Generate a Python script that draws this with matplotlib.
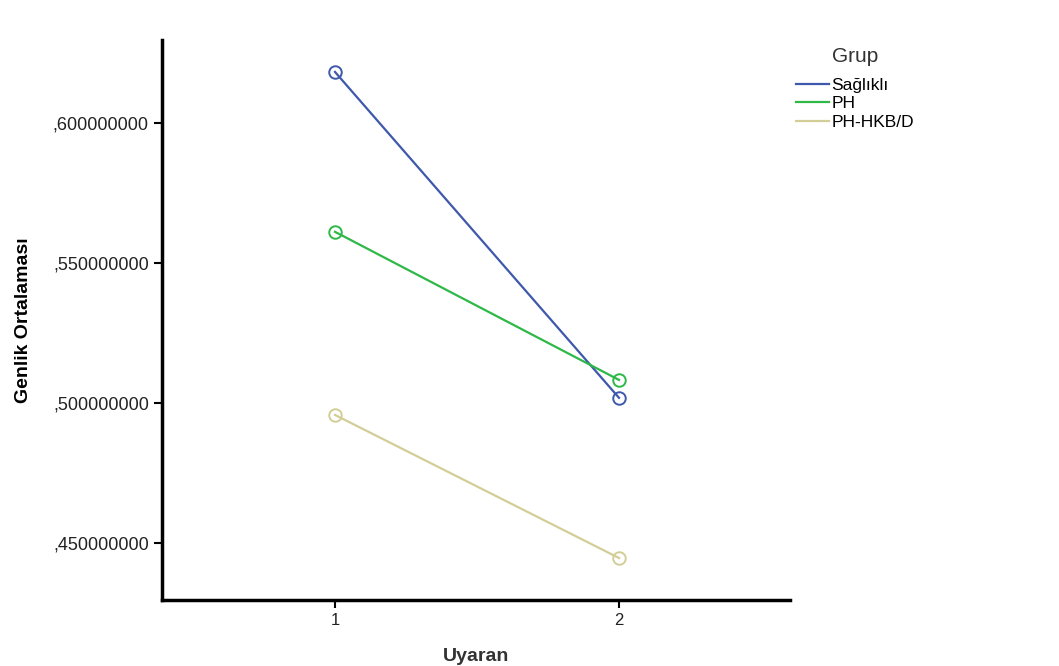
import matplotlib
matplotlib.use("Agg")
import matplotlib.pyplot as plt
from matplotlib.lines import Line2D

plt.rcParams['font.family'] = ['Liberation Sans', 'DejaVu Sans']

x_vals = [1, 2]
groups = ["Sağlıklı", "PH", "PH-HKB/D"]
saglikli = [0.6182, 0.5018]
ph = [0.5611, 0.5082]
ph_hkbd = [0.4957, 0.4446]
series = [saglikli, ph, ph_hkbd]
colors = ["#3E58AC", "#2EB848", "#D3CE97"]
yticks = [0.45, 0.50, 0.55, 0.60]

fig = plt.figure(figsize=(10.59, 6.66), dpi=100)
ax = fig.add_axes([162/1059, 66/666, (790-162)/1059, (600-40)/666])

for vals, c, name in zip(series, colors, groups):
    ax.plot(x_vals, vals, color=c, lw=1.6, marker='o', markersize=9,
            markerfacecolor='none', markeredgecolor=c, markeredgewidth=1.4, label=name)

ax.set_xlim(0.391, 2.602)
ax.set_ylim(0.4296, 0.6296)
ax.set_xticks(x_vals)
ax.set_xticklabels([str(v) for v in x_vals], fontsize=12)
ax.set_yticks(yticks)
ax.set_yticklabels([("%.9f" % v).replace("0.", ",") for v in yticks], fontsize=13)
for s in ['top', 'right']:
    ax.spines[s].set_visible(False)
for s in ['left', 'bottom']:
    ax.spines[s].set_linewidth(2.5)
    ax.spines[s].set_color('black')
ax.tick_params(axis='both', length=6, width=1.5, colors='black', labelcolor='#222222')
ax.set_xlabel("Uyaran", fontsize=14, fontweight='bold', color='#333333', labelpad=14)
ax.set_ylabel("Genlik Ortalaması", fontsize=14, fontweight='bold', labelpad=15)

handles = [Line2D([0], [0], color=c, lw=1.6) for c in colors]
leg = fig.legend(handles, groups, loc='upper left',
                 bbox_to_anchor=(789/1059, 1 - 71/666), frameon=False,
                 fontsize=12.5, handlelength=1.9,
                 handletextpad=0.15, labelspacing=0.18, borderaxespad=0)
fig.text(832/1059, 1 - 57/666, "Grup", fontsize=15, color='#333333',
         ha='left', va='center')

fig.savefig("out.png", dpi=100, facecolor='white')
